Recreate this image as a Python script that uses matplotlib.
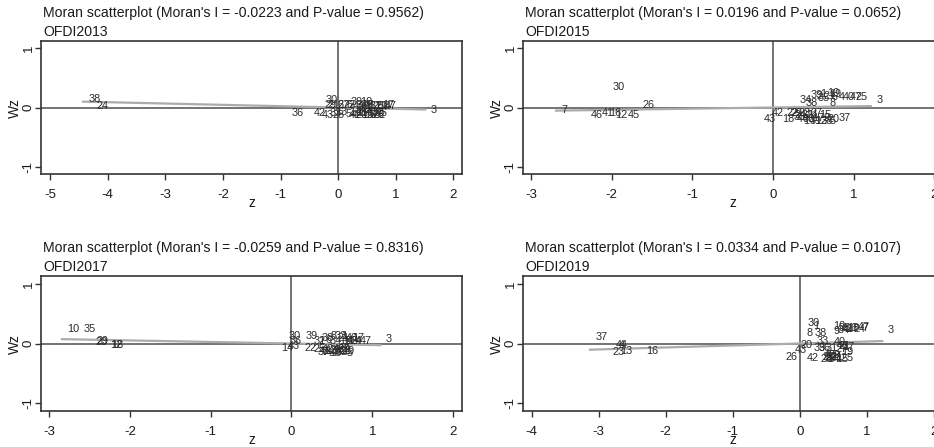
import matplotlib.pyplot as plt
import numpy as np

plt.rcParams['font.family'] = ['Liberation Sans', 'DejaVu Sans']
plt.rcParams['axes.unicode_minus'] = False

W, H = 934, 447

# ---- datos ----
ids_2013 = [38, 24, 36, 42, 43, 3, 30,
            29, 2, 16, 27, 22, 6, 39, 10, 34, 35, 9, 31, 8, 21, 17, 47, 18, 25, 1, 44,
            33, 13, 5, 4, 41, 20, 11, 19, 15, 12, 7, 26, 28, 14, 40, 45, 37, 46, 32, 23]
z_2013 = [-4.43, -4.29, -0.90, -0.52, -0.38, 1.51, -0.31,
          -0.33, -0.28, -0.20, -0.10, 0.00, 0.05, 0.12, 0.28, 0.20, 0.30, 0.40, 0.45, 0.42, 0.55, 0.66, 0.71, 0.60, 0.50, 0.35, 0.15,
          -0.24, -0.15, 0.04, 0.12, 0.08, 0.20, 0.22, 0.30, 0.35, 0.40, 0.45, 0.50, 0.20, 0.10, 0.38, 0.28, 0.48, 0.55, 0.52, -0.20]
wz_2013 = [0.15, 0.03, -0.10, -0.10, -0.13, -0.04, 0.13,
           0.05, 0.04, 0.05, 0.04, 0.04, 0.05, 0.10, 0.10, 0.05, 0.04, 0.04, 0.03, 0.05, 0.03, 0.04, 0.03, 0.02, 0.02, 0.03, 0.03,
           -0.10, -0.08, -0.11, -0.12, -0.12, -0.13, -0.10, -0.12, -0.13, -0.10, -0.12, -0.13, -0.07, -0.07, -0.07, -0.05, -0.08, -0.10, -0.13, -0.13]

ids_2015 = [7, 46, 41, 16, 12, 45, 30, 26, 3, 43, 42, 37, 34, 38, 8,
            39, 2, 21, 10, 6, 4, 1, 40, 47, 25, 35, 19,
            18, 22, 29, 24, 33, 23, 32, 14, 11, 27, 13, 15, 17, 9, 20, 5, 28, 36, 44, 31]
z_2015 = [-2.69, -2.33, -2.19, -2.10, -2.03, -1.87, -2.06, -1.69, 1.21, -0.18, -0.09, 0.74, 0.26, 0.33, 0.63,
          0.40, 0.47, 0.55, 0.60, 0.66, 0.75, 0.52, 0.80, 0.88, 0.95, 0.48, 0.62,
          0.04, 0.10, 0.15, 0.20, 0.18, 0.25, 0.28, 0.31, 0.35, 0.40, 0.45, 0.50, 0.42, 0.55, 0.60, 0.63, 0.52, 0.30, 0.22, 0.38]
wz_2015 = [-0.05, -0.12, -0.10, -0.09, -0.13, -0.12, 0.34, 0.05, 0.13, -0.20, -0.10, -0.17, 0.13, 0.08, 0.08,
           0.21, 0.20, 0.20, 0.25, 0.17, 0.18, 0.22, 0.18, 0.18, 0.18, 0.16, 0.22,
           -0.20, -0.10, -0.09, -0.12, -0.16, -0.10, -0.13, -0.23, -0.12, -0.10, -0.22, -0.12, -0.17, -0.18, -0.20, -0.23, -0.23, -0.19, -0.19, -0.22]

ids_2017 = [10, 35, 20, 29, 12, 18, 3, 30, 36, 14, 43, 39, 22,
            31, 2, 6, 8, 33, 21, 1, 40, 17, 47, 4, 16, 34, 45, 38, 11, 24,
            25, 41, 42, 13, 23, 26, 27, 28, 9, 19, 5, 7, 15, 32, 37, 44, 46]
z_2017 = [-2.84, -2.64, -2.50, -2.48, -2.31, -2.30, 1.10, -0.10, -0.09, -0.20, -0.12, 0.11, 0.09,
          0.20, 0.27, 0.35, 0.42, 0.47, 0.50, 0.55, 0.60, 0.68, 0.77, 0.72, 0.52, 0.40, 0.62, 0.30, 0.57, 0.66,
          0.20, 0.27, 0.30, 0.35, 0.40, 0.45, 0.50, 0.53, 0.58, 0.56, 0.61, 0.30, 0.40, 0.48, 0.25, 0.35, 0.44]
wz_2017 = [0.25, 0.25, 0.03, 0.04, -0.03, -0.03, 0.08, 0.12, 0.05, -0.07, -0.05, 0.12, -0.08,
           0.05, 0.04, 0.06, 0.12, 0.12, 0.10, 0.12, 0.10, 0.09, 0.05, 0.05, 0.05, 0.05, 0.05, 0.10, 0.04, 0.05,
           -0.10, -0.12, -0.10, -0.13, -0.11, -0.13, -0.10, -0.12, -0.10, -0.12, -0.16, -0.15, -0.16, -0.15, -0.15, -0.16, -0.09]

ids_2019 = [37, 44, 23, 13, 4, 16, 3, 26, 43, 20, 30, 8, 38, 1, 33, 39, 42,
            10, 9, 34, 41, 18, 6, 47, 7, 24, 2, 35,
            40, 21, 36, 27, 46, 31, 17,
            19, 5, 15, 12, 11, 14, 22, 25, 28, 32, 45, 29]
z_2019 = [-3.13, -2.83, -2.87, -2.76, -2.78, -2.38, 1.23, -0.29, -0.16, -0.07, 0.03, 0.02, 0.14, 0.12, 0.17, 0.12, 0.02,
          0.42, 0.42, 0.48, 0.55, 0.62, 0.68, 0.78, 0.86, 0.72, 0.60, 0.50,
          0.42, 0.50, 0.20, 0.45, 0.47, 0.30, 0.55,
          0.54, 0.62, 0.46, 0.44, 0.38, 0.33, 0.28, 0.25, 0.22, 0.30, 0.27, 0.35]
wz_2019 = [0.11, -0.02, -0.14, -0.12, -0.03, -0.13, 0.22, -0.23, -0.11, -0.02, 0.34, 0.18, 0.18, 0.30, 0.04, -0.08, -0.25,
           0.30, 0.21, 0.22, 0.24, 0.27, 0.27, 0.28, 0.27, 0.25, 0.24, 0.26,
           0.03, -0.05, -0.08, -0.10, -0.04, -0.07, -0.06,
           -0.14, -0.24, -0.27, -0.25, -0.23, -0.27, -0.25, -0.23, -0.27, -0.22, -0.20, -0.20]

moran_i = [-0.0223, 0.0196, -0.0259, 0.0334]
p_value = [0.9562, 0.0652, 0.8316, 0.0107]
names = ['OFDI2013', 'OFDI2015', 'OFDI2017', 'OFDI2019']


def px_box(l, r, t, b):
    return [l / W, 1 - b / H, (r - l) / W, (b - t) / H]


def panel(rect, ids, z, wz, mi, pv, name, xlim, xticks, ylim):
    ax = fig.add_axes(px_box(*rect))
    l, r, t, b = rect
    z = np.array(z)
    # línea de ajuste: pendiente = I de Moran
    xs = np.array([z.min(), z.max()])
    ax.plot(xs, mi * xs, color='#ababab', lw=1.6, zorder=1)
    ax.axhline(0, color='#4d4d4d', lw=1.1, zorder=0)
    ax.axvline(0, color='#4d4d4d', lw=1.1, zorder=0)
    for i, x, y in zip(ids, z, wz):
        ax.annotate(str(i), (x, y), xytext=(4, 0), textcoords='offset points',
                    ha='left', va='center', fontsize=7.8, color='#2b2b2b')
    ax.set_xlim(*xlim)
    ax.set_ylim(*ylim)
    ax.set_xticks(xticks)
    ax.set_yticks([-1, 0, 1])
    ax.set_yticklabels(['-1', '0', '1'], rotation=90, va='center')
    ax.tick_params(direction='out', length=4, width=1, colors='#333333',
                   labelsize=9.5, labelcolor='#1a1a1a')
    ax.tick_params(axis='x', pad=6.5)
    ax.tick_params(axis='y', pad=0.5)
    for s in ax.spines.values():
        s.set_color('#333333')
        s.set_linewidth(1.2)
    ax.set_xlabel('z', fontsize=10, color='#1a1a1a', va='center')
    ax.set_ylabel('Wz', fontsize=10, color='#1a1a1a', va='center')
    ax.xaxis.set_label_coords(0.5, -29 / (b - t))
    ax.yaxis.set_label_coords(-26 / (r - l), 0.5)
    fig.text((l + 2) / W, 1 - (t - 28) / H, 'Moran scatterplot (Moran\'s I = %.4f and P-value = %.4f)' % (mi, pv),
             fontsize=10.1, va='center', ha='left', color='#1a1a1a')
    fig.text((l + 2) / W, 1 - (t - 9) / H, name, fontsize=10.1, va='center', ha='left', color='#1a1a1a')
    return ax


fig = plt.figure(figsize=(W / 100, H / 100), dpi=100)

panel((41, 462, 41, 174), ids_2013, z_2013, wz_2013, moran_i[0], p_value[0], names[0],
      (-5.16, 2.15), [-5, -4, -3, -2, -1, 0, 1, 2], (-1.12, 1.12))
panel((523, 942.5, 41, 174), ids_2015, z_2015, wz_2015, moran_i[1], p_value[1], names[1],
      (-3.1, 2.1), [-3, -2, -1, 0, 1, 2], (-1.12, 1.12))
panel((41, 462, 276, 411), ids_2017, z_2017, wz_2017, moran_i[2], p_value[2], names[2],
      (-3.1, 2.11), [-3, -2, -1, 0, 1, 2], (-1.14, 1.14))
panel((523, 942.5, 276, 411), ids_2019, z_2019, wz_2019, moran_i[3], p_value[3], names[3],
      (-4.13, 2.13), [-4, -3, -2, -1, 0, 1, 2], (-1.14, 1.14))

fig.savefig('out.png', dpi=100)
